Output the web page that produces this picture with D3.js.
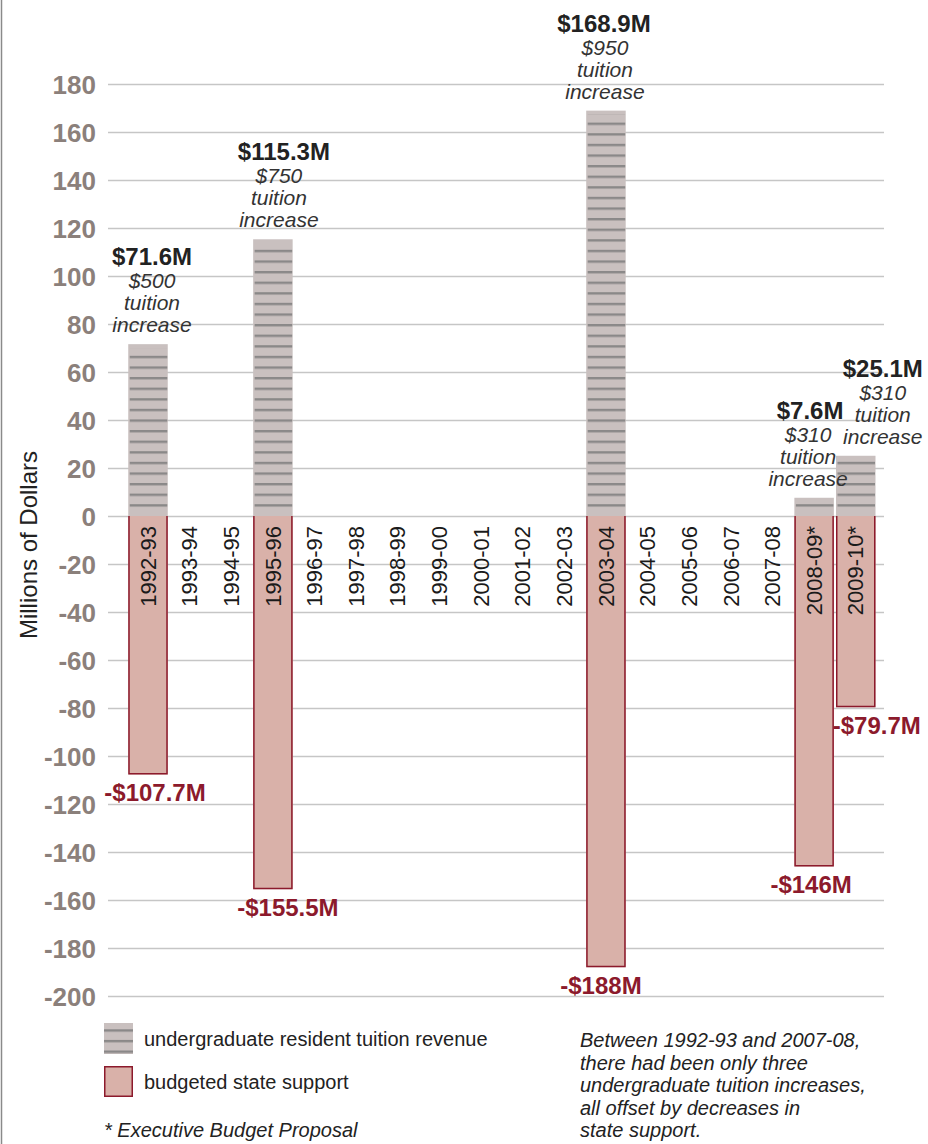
<!DOCTYPE html>
<html>
<head>
<meta charset="utf-8">
<script src="https://cdn.jsdelivr.net/npm/d3@7"></script>
<style>
  body { margin: 0; background: #fff; }
  svg { display: block; font-family: "Liberation Sans", Arial, Helvetica, sans-serif; }
</style>
</head>
<body>
<div id="chart"></div>
<script>
// school years on the x axis
var years = ["1992-93", "1993-94", "1994-95", "1995-96", "1996-97", "1997-98", "1998-99",
  "1999-00", "2000-01", "2001-02", "2002-03", "2003-04", "2004-05", "2005-06",
  "2006-07", "2007-08", "2008-09*", "2009-10*"]

// undergraduate resident tuition revenue, millions (null = no increase that year)
var tuitionRevenue = [71.6, null, null, 115.3, null, null, null, null, null, null, null,
  168.9, null, null, null, null, 7.6, 25.1]

// budgeted state support change, millions
var stateSupport = [-107.7, null, null, -155.5, null, null, null, null, null, null, null,
  -188, null, null, null, null, -146, -79.7]

// tuition increase in dollars
var tuitionIncrease = [500, null, null, 750, null, null, null, null, null, null, null,
  950, null, null, null, null, 310, 310]

var yTicks = [180, 160, 140, 120, 100, 80, 60, 40, 20, 0, -20, -40, -60, -80, -100,
  -120, -140, -160, -180, -200]

var legendLabels = ["undergraduate resident tuition revenue", "budgeted state support"]
var footnote = "* Executive Budget Proposal"
var noteLines = ["Between 1992-93 and 2007-08,", "there had been only three",
  "undergraduate tuition increases,", "all offset by decreases in", "state support."]

var width = 928, height = 1144

var grey = "#c9c0bf", stripe = "#8a8888", pink = "#d9b1a9", red = "#8c1a2c", tickGrey = "#8b807b"

// small nudges so the labels sit like in the print version
var topShift = {"1992-93": 4, "1995-96": 6, "2003-04": -1, "2008-09*": -6, "2009-10*": 27}
var valShift = {"1992-93": 4, "1995-96": 11, "2003-04": -2, "2008-09*": -4, "2009-10*": 27}
var negShift = {"1992-93": 7, "1995-96": 15, "2003-04": -5, "2008-09*": -3, "2009-10*": 21}

var svg = d3.select("#chart").append("svg")
  .attr("width", width)
  .attr("height", height)

var y = d3.scaleLinear().domain([-200, 180]).range([996, 84])
var x = d3.scaleBand().domain(years).range([128.25, 875.5]).paddingInner(0.051).paddingOuter(0)
var y0 = y(0)

// stripe patterns for tuition bars
function makeStripes(id, anchor) {
  var p = svg.append("defs").append("pattern")
    .attr("id", id)
    .attr("patternUnits", "userSpaceOnUse")
    .attr("x", 0).attr("y", anchor - 1.2)
    .attr("width", 10).attr("height", 10.6)
  p.append("rect").attr("y", 0).attr("width", 10).attr("height", 2.4).attr("fill", stripe)
}
makeStripes("stripes", y0 - 10.6)
makeStripes("stripesLegend", 1030.5)

// left frame line
svg.append("line")
  .attr("x1", 1.5).attr("x2", 1.5).attr("y1", 0).attr("y2", height)
  .attr("stroke", "#8a8a8a").attr("stroke-width", 1.5)

// gridlines + tick labels
var yAxis = d3.axisLeft(y)
  .tickValues(yTicks)
  .tickSize(-(884 - 108))
  .tickPadding(12)
  .tickFormat(function(d) { return String(d) })

var ga = svg.append("g")
  .attr("transform", "translate(108,0)")
  .call(yAxis)
ga.select(".domain").remove()
ga.selectAll(".tick line").attr("stroke", "#c6c6c6").attr("stroke-width", 1.4)
ga.selectAll(".tick text")
  .attr("fill", tickGrey)
  .style("font-size", "26px")
  .style("font-weight", 700)
  .attr("dy", "0.35em")

svg.append("text")
  .attr("transform", "translate(37," + 545 + ") rotate(-90)")
  .attr("text-anchor", "middle")
  .style("font-size", "24px")
  .attr("fill", "#222")
  .text("Millions of Dollars")

var rows = years.map(function(d, i) {
  return {year: d, rev: tuitionRevenue[i], support: stateSupport[i], inc: tuitionIncrease[i]}
})

// tuition revenue bars
var revRows = rows.filter(function(d) { return d.rev != null })
svg.selectAll(".rev")
  .data(revRows)
  .enter()
  .append("rect")
    .attr("class", "rev")
    .attr("x", function(d) { return x(d.year) })
    .attr("y", function(d) { return y(d.rev) })
    .attr("width", x.bandwidth())
    .attr("height", function(d) { return y0 - y(d.rev) })
    .attr("fill", grey)
svg.selectAll(".revStripes")
  .data(revRows)
  .enter()
  .append("rect")
    .attr("x", function(d) { return x(d.year) + 1.5 })
    .attr("y", function(d) { return y(d.rev) + 4 })
    .attr("width", x.bandwidth() - 2)
    .attr("height", function(d) { return Math.max(0, y0 - y(d.rev) - 6) })
    .attr("fill", "url(#stripes)")

// state support bars
var supRows = rows.filter(function(d) { return d.support != null })
svg.selectAll(".sup")
  .data(supRows)
  .enter()
  .append("rect")
    .attr("x", function(d) { return x(d.year) })
    .attr("y", y0)
    .attr("width", x.bandwidth())
    .attr("height", function(d) { return y(d.support) - y0 })
    .attr("fill", pink)
svg.selectAll(".supEdge")
  .data(supRows)
  .enter()
  .append("path")
    .attr("d", function(d) {
      var a = x(d.year) + 0.75, b = x(d.year) + x.bandwidth() - 0.75, bot = y(d.support) - 0.75
      return "M" + a + "," + y0 + "V" + bot + "H" + b + "V" + y0
    })
    .attr("fill", "none")
    .attr("stroke", red)
    .attr("stroke-width", 1.5)

// year labels
svg.selectAll(".year")
  .data(years)
  .enter()
  .append("text")
    .attr("transform", function(d) {
      return "translate(" + (x(d) + x.bandwidth() / 2) + "," + (y0 + 10) + ") rotate(-90)"
    })
    .attr("dy", "0.35em")
    .attr("text-anchor", "end")
    .style("font-size", "22px")
    .attr("fill", "#1a1a1a")
    .text(function(d) { return d })

// value labels on top
revRows.forEach(function(d) {
  var cx = x(d.year) + x.bandwidth() / 2, top = y(d.rev)
  svg.append("text")
    .attr("x", cx + valShift[d.year]).attr("y", top - 79)
    .attr("text-anchor", "middle")
    .style("font-size", "24px").style("font-weight", 700)
    .attr("fill", "#222")
    .text("$" + d.rev + "M")
  var lines = ["$" + d.inc, "tuition", "increase"]
  lines.forEach(function(t, k) {
    svg.append("text")
      .attr("x", cx + topShift[d.year]).attr("y", top - 56 + k * 22)
      .attr("text-anchor", "middle")
      .style("font-size", "21px").style("font-style", "italic")
      .attr("fill", "#333")
      .text(t)
  })
})

// negative labels
svg.selectAll(".neg")
  .data(supRows)
  .enter()
  .append("text")
    .attr("x", function(d) { return x(d.year) + x.bandwidth() / 2 + negShift[d.year] })
    .attr("y", function(d) { return y(d.support) + 27 })
    .attr("text-anchor", "middle")
    .style("font-size", "24px").style("font-weight", 700)
    .attr("fill", red)
    .text(function(d) { return "-$" + Math.abs(d.support) + "M" })

// legend
var lg = svg.append("g")
lg.append("rect").attr("x", 104).attr("y", 1023).attr("width", 29).attr("height", 31).attr("fill", grey)
lg.append("rect").attr("x", 104).attr("y", 1023).attr("width", 29).attr("height", 31).attr("fill", "url(#stripesLegend)")
lg.append("rect").attr("x", 104.75).attr("y", 1066.75).attr("width", 27.5).attr("height", 29.5)
  .attr("fill", pink).attr("stroke", red).attr("stroke-width", 1.5)
lg.selectAll(".lt")
  .data(legendLabels)
  .enter()
  .append("text")
    .attr("x", 144)
    .attr("y", function(d, i) { return 1046 + i * 43 })
    .style("font-size", "20px")
    .attr("fill", "#222")
    .text(function(d) { return d })
lg.append("text")
  .attr("x", 104).attr("y", 1137)
  .style("font-size", "20px").style("font-style", "italic")
  .attr("fill", "#222")
  .text(footnote)

svg.selectAll(".note")
  .data(noteLines)
  .enter()
  .append("text")
    .attr("x", 580)
    .attr("y", function(d, i) { return 1047 + i * 22.5 })
    .style("font-size", "20px").style("font-style", "italic")
    .attr("fill", "#222")
    .text(function(d) { return d })
</script>
</body>
</html>
